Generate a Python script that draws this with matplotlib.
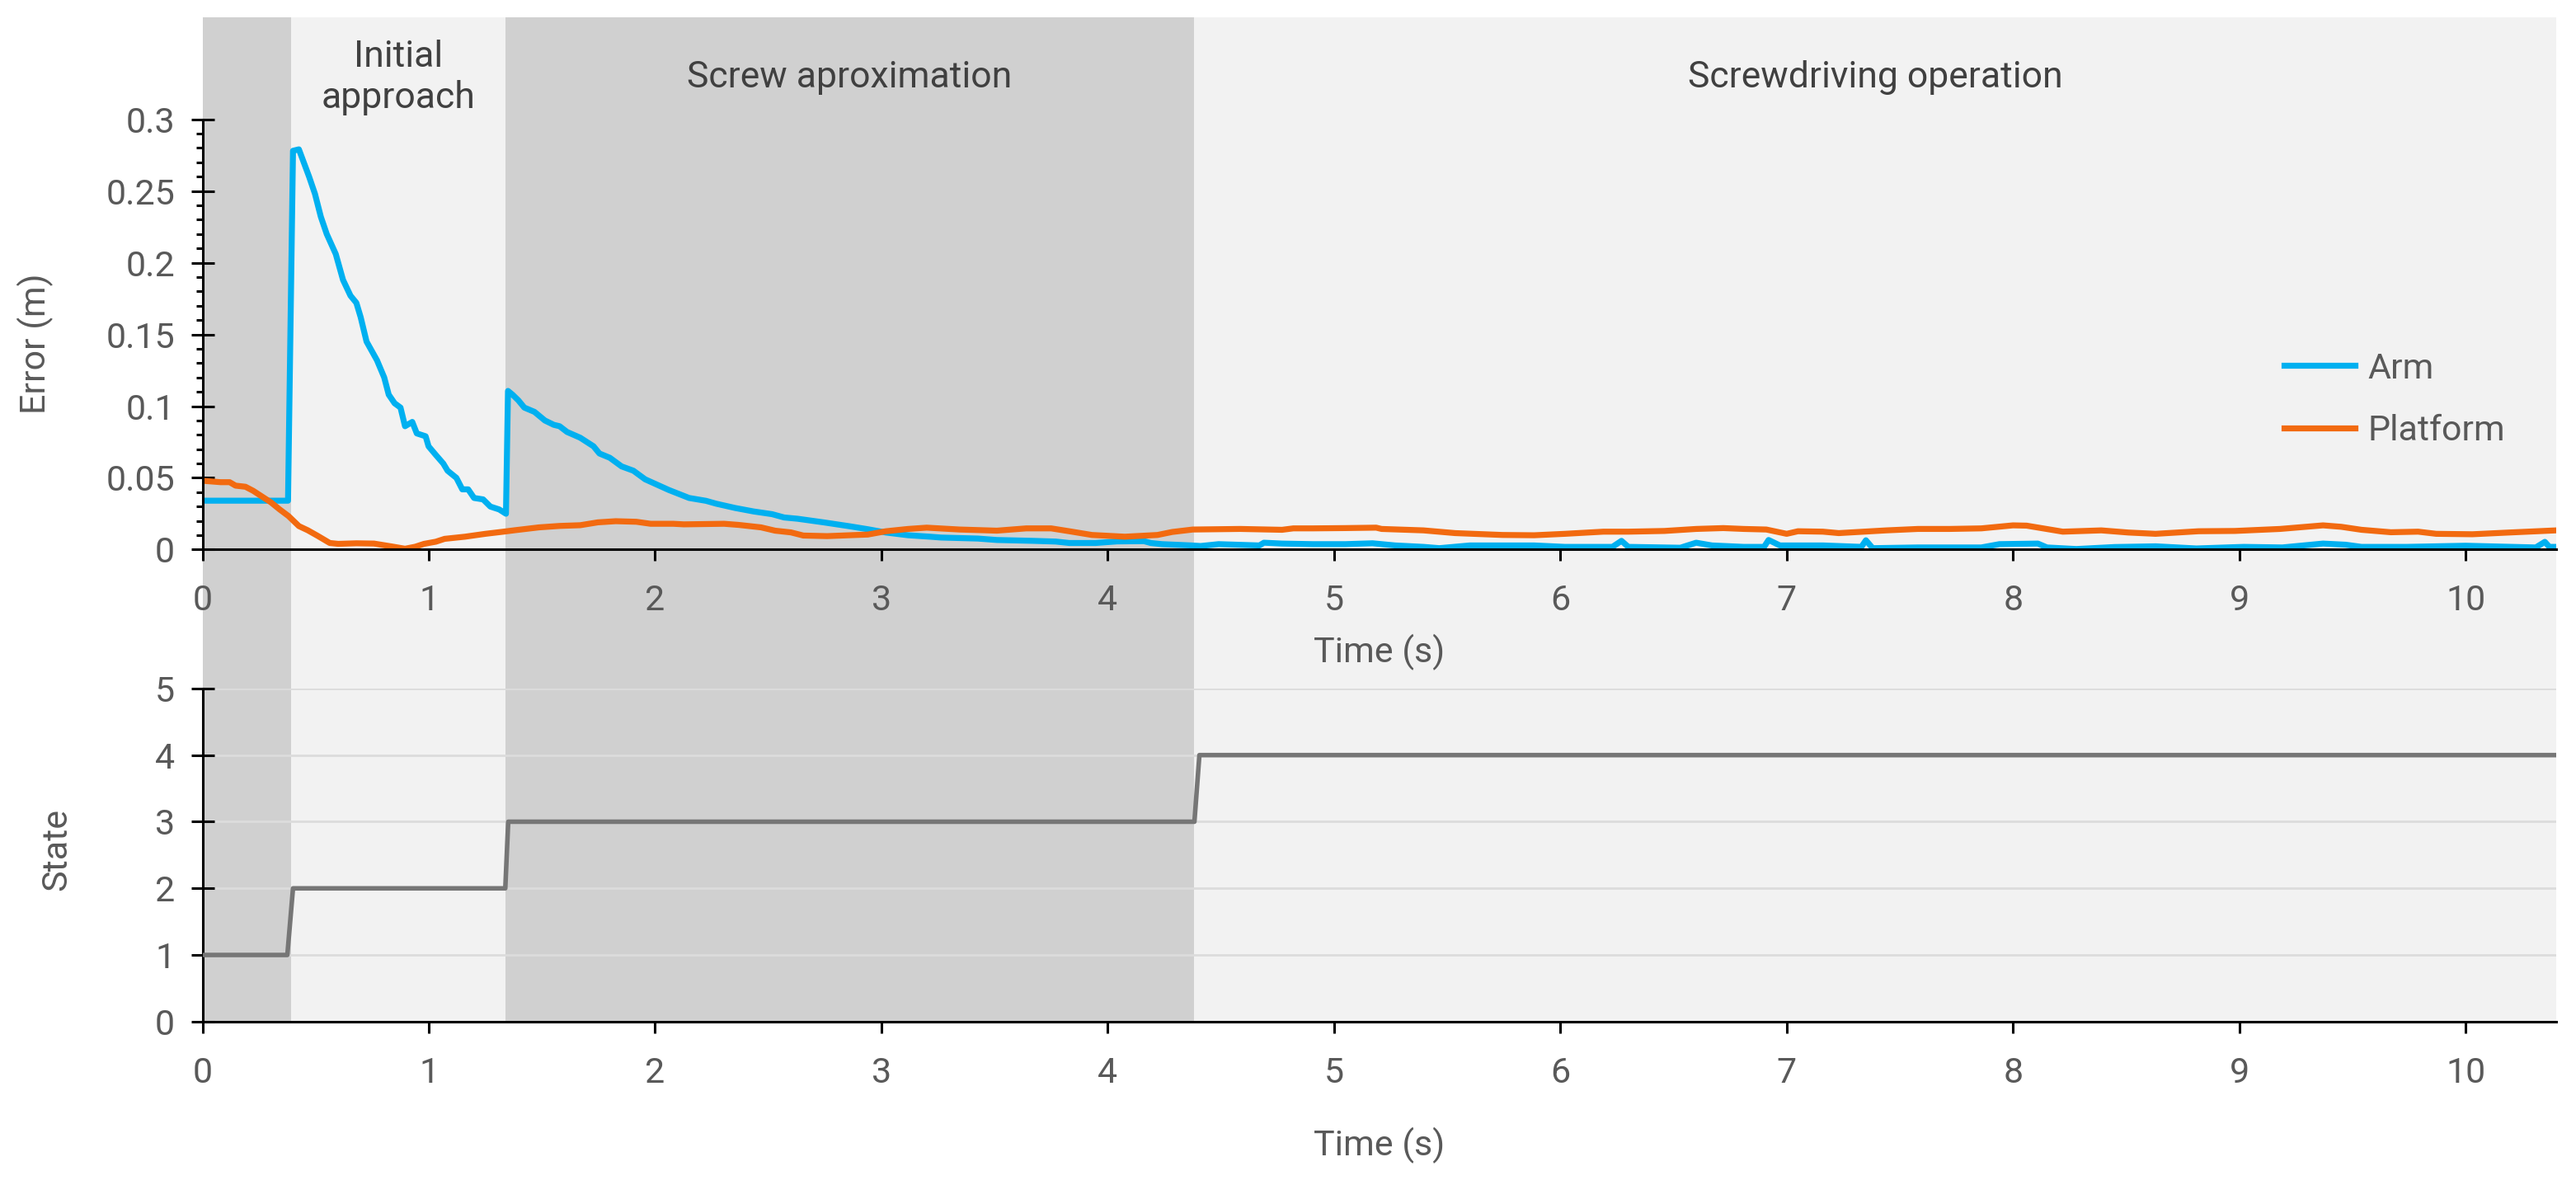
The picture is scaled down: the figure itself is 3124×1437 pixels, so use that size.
#!/usr/bin/env python3

import matplotlib
matplotlib.use("Agg")
import matplotlib.pyplot as plt
import numpy as np

# band limits (s) and labels
band_edges = [0.0, 0.39, 1.34, 4.38, 10.4]
band_colors = ["#d0d0d0", "#f2f2f2", "#d0d0d0", "#f2f2f2"]
band_labels = ["", "Initial\napproach", "Screw aproximation", "Screwdriving operation"]

# arm error (m)
arm_t = [0, 0.378, 0.40, 0.426, 0.445, 0.471, 0.497, 0.523, 0.549, 0.589, 0.621, 0.654,
         0.680, 0.699, 0.725, 0.771, 0.803, 0.823, 0.849, 0.875, 0.895, 0.927, 0.947,
         0.986, 0.999, 1.031, 1.064, 1.083, 1.122, 1.148, 1.174, 1.2, 1.24, 1.272, 1.311,
         1.341, 1.35, 1.37, 1.396, 1.422, 1.467, 1.513, 1.552, 1.578, 1.611, 1.669, 1.728,
         1.754, 1.8, 1.852, 1.904, 1.956, 2.06, 2.15, 2.225, 2.27, 2.354, 2.435, 2.517,
         2.57, 2.63, 2.744, 2.858, 2.94, 3.02, 3.118, 3.215, 3.264, 3.426, 3.51, 3.67,
         3.77, 3.83, 3.946, 4.04, 4.16, 4.19, 4.24, 4.37, 4.41, 4.49, 4.67, 4.69, 4.77,
         4.906, 5.05, 5.17, 5.27, 5.395, 5.465, 5.6, 5.744, 5.884, 6.02, 6.23, 6.27, 6.3,
         6.53, 6.6, 6.67, 6.81, 6.9, 6.92, 6.97, 7.16, 7.33, 7.35, 7.38, 7.58, 7.86, 7.94,
         8.11, 8.15, 8.28, 8.45, 8.63, 8.81, 9.02, 9.19, 9.37, 9.47, 9.54, 9.74, 10.0,
         10.31, 10.35, 10.37, 10.4]
arm_err = [0.0341, 0.0341, 0.278, 0.279, 0.271, 0.260, 0.248, 0.232, 0.220, 0.206, 0.188,
           0.177, 0.172, 0.162, 0.145, 0.132, 0.120, 0.108, 0.102, 0.099, 0.086, 0.089,
           0.081, 0.079, 0.072, 0.066, 0.060, 0.055, 0.050, 0.042, 0.042, 0.036, 0.035,
           0.030, 0.028, 0.025, 0.1106, 0.108, 0.104, 0.099, 0.096, 0.090, 0.087, 0.086,
           0.082, 0.078, 0.072, 0.067, 0.064, 0.058, 0.055, 0.049, 0.0416, 0.036, 0.034,
           0.032, 0.029, 0.0266, 0.0247, 0.0224, 0.0215, 0.019, 0.0163, 0.0142, 0.0119,
           0.010, 0.009, 0.0084, 0.0077, 0.0067, 0.0061, 0.0056, 0.0046, 0.0046, 0.0057,
           0.0059, 0.0046, 0.0038, 0.0029, 0.0025, 0.0038, 0.0029, 0.0048, 0.0042, 0.0038,
           0.0038, 0.0044, 0.0029, 0.0019, 0.001, 0.0029, 0.0029, 0.0029, 0.0019, 0.0019,
           0.0061, 0.0019, 0.0013, 0.0048, 0.0029, 0.0019, 0.0019, 0.0067, 0.0029, 0.0029,
           0.0019, 0.0065, 0.001, 0.0015, 0.0015, 0.0038, 0.0042, 0.0015, 0.0004, 0.0018,
           0.0023, 0.0008, 0.0019, 0.0015, 0.0042, 0.0034, 0.0019, 0.0019, 0.0027, 0.0015,
           0.0054, 0.0019, 0.0019]

# platform error (m)
plat_t = [0, 0.08, 0.12, 0.146, 0.19, 0.224, 0.263, 0.302, 0.341, 0.38, 0.426, 0.465, 0.51,
          0.5625, 0.60, 0.68, 0.758, 0.836, 0.895, 0.94, 0.979, 1.031, 1.07, 1.16, 1.25,
          1.33, 1.38, 1.487, 1.578, 1.669, 1.747, 1.826, 1.917, 1.98, 2.08, 2.127, 2.305,
          2.37, 2.468, 2.53, 2.6, 2.655, 2.76, 2.858, 2.94, 3.02, 3.118, 3.2, 3.345, 3.51,
          3.64, 3.75, 3.83, 3.93, 4.076, 4.22, 4.285, 4.376, 4.585, 4.77, 4.82, 4.906, 5.05,
          5.186, 5.21, 5.395, 5.535, 5.744, 5.884, 6.02, 6.19, 6.3, 6.46, 6.6, 6.72, 6.81,
          6.91, 7.0, 7.05, 7.16, 7.23, 7.44, 7.58, 7.72, 7.86, 8.0, 8.06, 8.22, 8.39, 8.51,
          8.63, 8.82, 8.98, 9.18, 9.37, 9.45, 9.54, 9.67, 9.79, 9.87, 10.03, 10.19, 10.4]
plat_err = [0.048, 0.047, 0.047, 0.0446, 0.0438, 0.041, 0.037, 0.033, 0.028, 0.0234, 0.0164,
            0.0135, 0.0095, 0.0046, 0.004, 0.0044, 0.0042, 0.0022, 0.0006, 0.002, 0.004,
            0.0055, 0.0075, 0.009, 0.011, 0.0125, 0.0135, 0.0155, 0.0165, 0.017, 0.019,
            0.0198, 0.0194, 0.018, 0.018, 0.0176, 0.018, 0.0172, 0.0155, 0.0132, 0.012,
            0.0098, 0.0094, 0.010, 0.0105, 0.0128, 0.0144, 0.0153, 0.014, 0.0132, 0.0148,
            0.0148, 0.0128, 0.0102, 0.009, 0.0102, 0.0123, 0.014, 0.0144, 0.0138, 0.0148,
            0.0148, 0.015, 0.0153, 0.0144, 0.0134, 0.0115, 0.0102, 0.010, 0.011, 0.0125,
            0.0125, 0.013, 0.0144, 0.015, 0.0144, 0.014, 0.011, 0.0128, 0.0125, 0.0115,
            0.0134, 0.0144, 0.0144, 0.0148, 0.0169, 0.0167, 0.0125, 0.0134, 0.0119, 0.011,
            0.0128, 0.013, 0.0144, 0.0169, 0.0159, 0.0138, 0.0121, 0.0125, 0.011, 0.0107,
            0.0119, 0.0134]

# state machine
state_t = [0, 0.375, 0.40, 1.338, 1.351, 4.383, 4.405, 10.4]
state_v = [1, 1, 2, 2, 3, 3, 4, 4]

err_ticks = [0, 0.05, 0.1, 0.15, 0.2, 0.25, 0.3]
err_ticklabels = ["0", "0.05", "0.1", "0.15", "0.2", "0.25", "0.3"]
time_ticks = list(range(0, 11))
state_ticks = list(range(0, 6))

ARM = "#00b0f0"
PLAT = "#f26a10"
GREY_TXT = "#595959"
FS = 15.5


def style_axis(ax):
  for s in ["top", "right"]:
    ax.spines[s].set_visible(False)
  for s in ["left", "bottom"]:
    ax.spines[s].set_linewidth(1.1)
  ax.set_facecolor("none")
  ax.set_xlim(0, 10.4)
  ax.set_xticks(time_ticks)
  ax.tick_params(axis="x", direction="out", length=5, width=1.1, pad=10,
                 labelsize=FS, labelcolor=GREY_TXT)
  ax.tick_params(axis="y", which="major", direction="inout", length=10, width=1.1,
                 pad=7, labelsize=FS, labelcolor=GREY_TXT)


def main():
  plt.rcParams["font.family"] = ["Roboto", "DejaVu Sans"]
  fig = plt.figure(figsize=(15.62, 7.185), dpi=200)

  left, width = 0.0786, 0.9137
  ax_bg = fig.add_axes([left, 0.1379, width, 0.8472], zorder=0)
  ax_top = fig.add_axes([left, 0.5362, width, 0.4489], zorder=2)
  ax_bot = fig.add_axes([left, 0.1379, width, 0.2811], zorder=2)

  # background bands spanning both panels
  for i, c in enumerate(band_colors):
    ax_bg.axvspan(band_edges[i], band_edges[i + 1], color=c, lw=0)
  ax_bg.set_xlim(0, 10.4)
  ax_bg.set_ylim(0, 1)
  ax_bg.axis("off")

  # top panel: errors
  style_axis(ax_top)
  ax_top.set_ylim(0, 0.3708)
  ax_top.spines["left"].set_bounds(0, 0.3)
  ax_top.plot(arm_t, arm_err, color=ARM, lw=2.6, label="Arm", solid_joinstyle="round")
  ax_top.plot(plat_t, plat_err, color=PLAT, lw=2.6, label="Platform", solid_joinstyle="round")
  ax_top.set_yticks(err_ticks)
  ax_top.set_yticklabels(err_ticklabels)
  ax_top.set_yticks(np.arange(0, 0.3001, 0.01), minor=True)
  ax_top.tick_params(axis="y", which="minor", direction="out", length=3, width=1.1)
  ax_top.set_xlabel("Time (s)", fontsize=FS, color=GREY_TXT)
  ax_top.xaxis.set_label_coords(0.5, -0.193)
  ax_top.xaxis.label.set_va("center")
  ax_top.set_ylabel("Error (m)", fontsize=FS, color=GREY_TXT)
  ax_top.yaxis.set_label_coords(-0.071, 0.387)
  ax_top.yaxis.label.set_va("center")

  for i, lab in enumerate(band_labels):
    if lab:
      mid = 0.5 * (band_edges[i] + band_edges[i + 1])
      ax_top.text(mid, 0.329, lab, ha="center", va="center", fontsize=16,
                  color="#404040", linespacing=1.2)

  ax_top.legend(loc="upper left", bbox_to_anchor=(0.8844, 0.372), frameon=False,
                fontsize=FS, handlelength=2.0, handletextpad=0.35, borderpad=0,
                borderaxespad=0, labelspacing=0.8, labelcolor=GREY_TXT)

  # bottom panel: state
  style_axis(ax_bot)
  ax_bot.set_ylim(0, 5)
  ax_bot.set_yticks(state_ticks)
  for s in state_ticks[1:]:
    ax_bot.axhline(s, color="#dcdcdc", lw=1.0, zorder=0)
  ax_bot.plot(state_t, state_v, color="#767676", lw=2.0, zorder=3)
  ax_bot.set_xlabel("Time (s)", fontsize=FS, color=GREY_TXT)
  ax_bot.xaxis.set_label_coords(0.5, -0.372)
  ax_bot.xaxis.label.set_va("center")
  ax_bot.set_ylabel("State", fontsize=FS, color=GREY_TXT)
  ax_bot.yaxis.set_label_coords(-0.062, 0.517)
  ax_bot.yaxis.label.set_va("center")

  fig.savefig("out.png", dpi=200, facecolor="white")


if __name__ == '__main__':
  main()
